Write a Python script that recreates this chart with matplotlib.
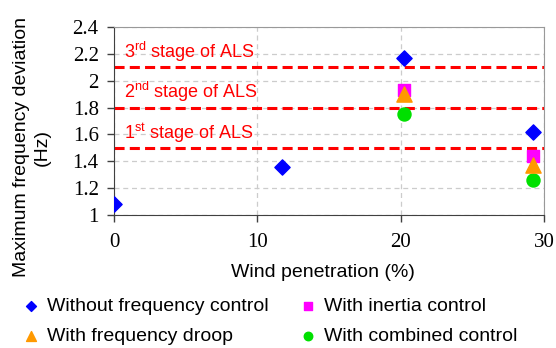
import matplotlib.pyplot as plt

# Datos
x_base = [0, 11.7, 20.2, 29.2]
y_base = [1.08, 1.36, 2.17, 1.62]
x_ctrl = [20.2, 29.2]
y_inertia = [1.93, 1.44]
y_droop = [1.90, 1.37]
y_combined = [1.75, 1.26]
als_levels = [1.5, 1.8, 2.1]
als_labels = [r'1$^{\mathrm{st}}$ stage of ALS', r'2$^{\mathrm{nd}}$ stage of ALS', r'3$^{\mathrm{rd}}$ stage of ALS']
xticks = [0, 10, 20, 30]
yticks = [1, 1.2, 1.4, 1.6, 1.8, 2, 2.2, 2.4]
ytick_labels = ['1', '1.2', '1.4', '1.6', '1.8', '2', '2.2', '2.4']

plt.rcParams['font.family'] = 'Liberation Sans'
plt.rcParams['mathtext.fontset'] = 'custom'
plt.rcParams['mathtext.rm'] = 'Liberation Sans'

fig = plt.figure(figsize=(5.56, 3.48), dpi=100)
ax = fig.add_axes([114 / 556, 1 - 215 / 348, 430 / 556, 188 / 348])

ax.set_xlim(0, 30)
ax.set_ylim(1, 2.4)
ax.set_xticks(xticks)
ax.set_yticks(yticks)
ax.set_yticklabels(ytick_labels)
for lab in ax.get_xticklabels() + ax.get_yticklabels():
    lab.set_family('Liberation Serif')
    lab.set_fontsize(15)
ax.tick_params(direction='out', length=5, width=1, color='#404040')
ax.tick_params(axis='x', pad=8)
ax.tick_params(axis='y', pad=6)
ax.grid(True, color='#cccccc', linestyle=(0, (4, 3)), linewidth=0.9)
ax.set_axisbelow(True)
ax.spines['left'].set_color('#404040')
ax.spines['bottom'].set_color('#404040')
ax.spines['top'].set_color('#999999')
ax.spines['right'].set_color('#999999')

for lvl, txt in zip(als_levels, als_labels):
    ax.axhline(lvl, color='red', linestyle=(0, (3.3, 1.7)), linewidth=2.2, zorder=2)
    ax.text(0.68, lvl + 0.07, txt, color='red', fontsize=13, va='baseline')

ax.scatter(x_base, y_base, marker='D', s=60, color='blue', zorder=3, label='Without frequency control')
ax.scatter(x_ctrl, y_inertia, marker='s', s=85, color='#ff00ff', zorder=3, label='With inertia control')
ax.scatter(x_ctrl, y_droop, marker='^', s=120, color='#ff9900', zorder=4, label='With frequency droop')
ax.scatter(x_ctrl, y_combined, marker='o', s=88, color='#00e000', zorder=3, label='With combined control')

ax.set_xlabel('Wind penetration (%)', fontsize=14)
ax.xaxis.set_label_coords(0.487, -0.26)
ax.set_ylabel('Maximum frequency deviation\n(Hz)', fontsize=14, linespacing=1.3, va='center')
ax.yaxis.set_label_coords(-0.191, 0.36)

handles, labels = ax.get_legend_handles_labels()
order = [0, 2, 1, 3]
fig.legend([handles[i] for i in order], [labels[i] for i in order], ncol=2,
           loc='upper left', bbox_to_anchor=(0.004, 0.196), frameon=False,
           fontsize=14, handletextpad=0.2, columnspacing=1.45, labelspacing=0.65,
           handlelength=1.2, markerscale=0.65)

fig.savefig('out.png', dpi=100)
